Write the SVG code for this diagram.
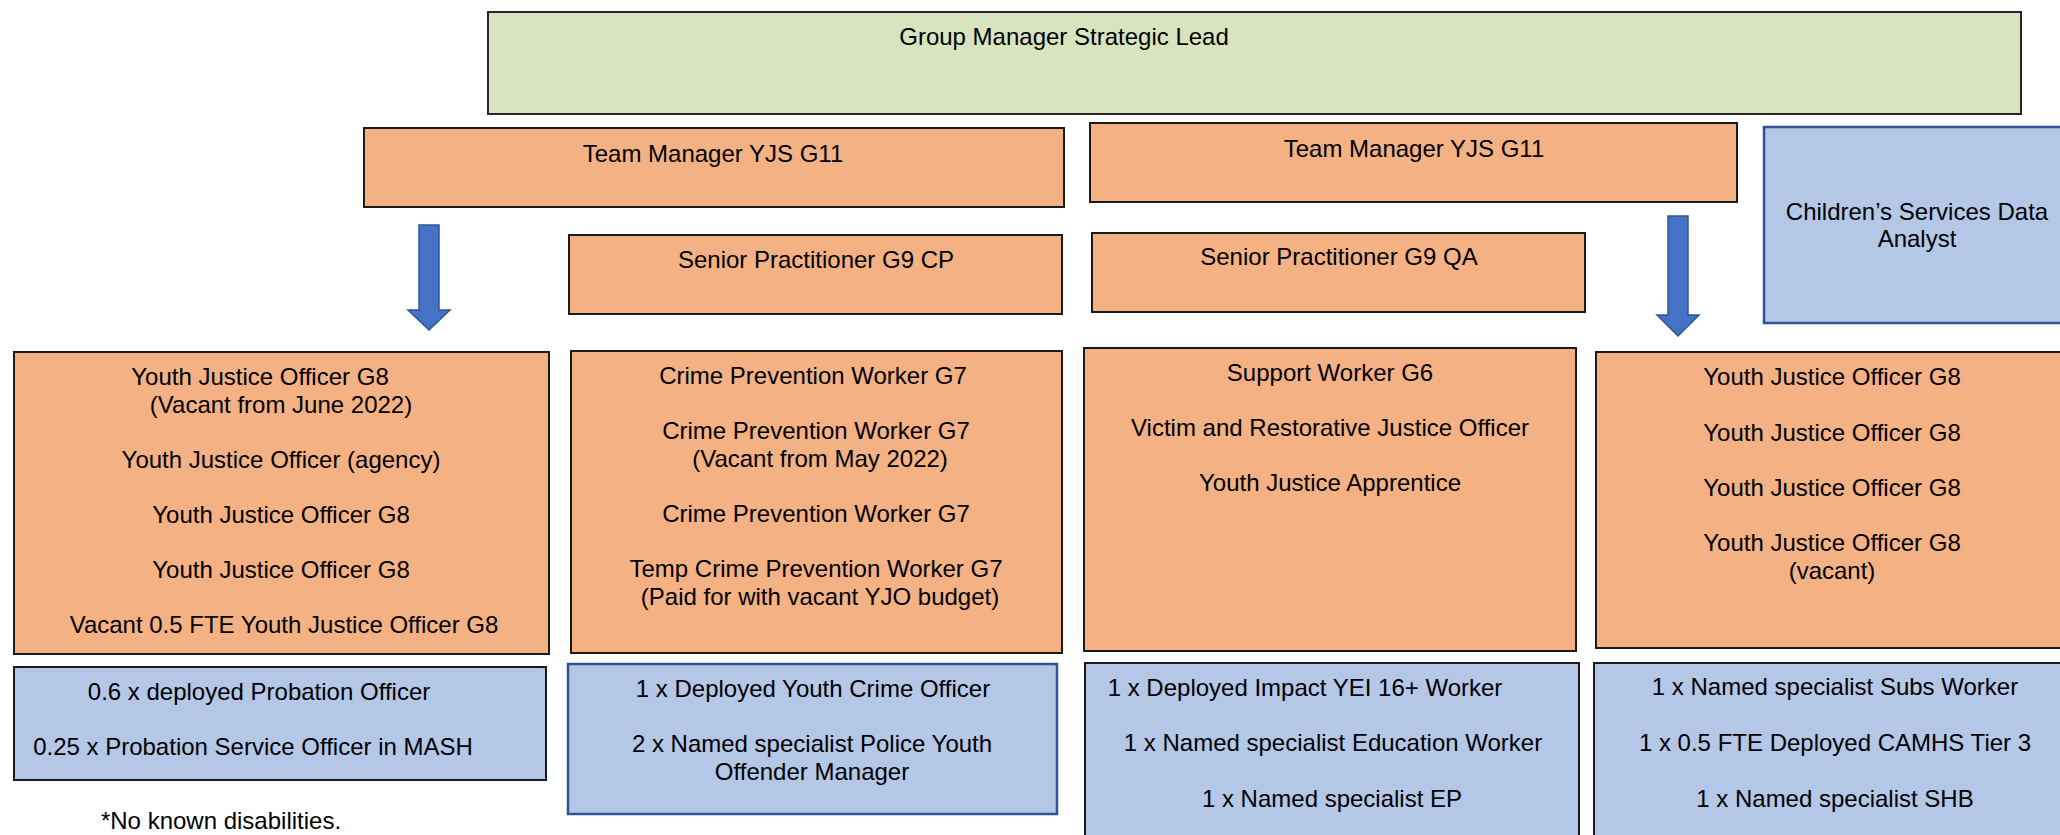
<svg xmlns="http://www.w3.org/2000/svg" width="2060" height="835" viewBox="0 0 2060 835">
<style>
  text { font-family: "Liberation Sans", Arial, sans-serif; font-size: 24px; fill: #000; text-anchor: middle; }
  .green { fill: #D7E4BD; stroke: #262626; stroke-width: 2; }
  .orange { fill: #F4B183; stroke: #1a1a1a; stroke-width: 2; }
  .blue { fill: #B4C7E7; stroke: #1a1a1a; stroke-width: 2; }
  .blueb { fill: #B4C7E7; stroke: #2F5597; stroke-width: 2.5; }
  .arrow { fill: #4472C4; stroke: #2F5597; stroke-width: 1.5; }
</style>
<rect width="2060" height="835" fill="#ffffff"/>

<g id="connectors">
  <polygon class="arrow" points="419,225 439,225 439,310 450,310 429,330 408,310 419,310"/>
  <polygon class="arrow" points="1668,216 1688,216 1688,315 1699,315 1678,336 1657,315 1668,315"/>
</g>

<g id="group-manager">
  <rect class="green" x="488" y="12" width="1533" height="102"/>
  <text x="1064" y="45">Group Manager Strategic Lead</text>
</g>

<g id="team-manager-1">
  <rect class="orange" x="364" y="128" width="700" height="79"/>
  <text x="713" y="162">Team Manager YJS G11</text>
</g>

<g id="team-manager-2">
  <rect class="orange" x="1090" y="123" width="647" height="79"/>
  <text x="1414" y="157">Team Manager YJS G11</text>
</g>

<g id="data-analyst">
  <rect class="blueb" x="1764" y="127" width="320" height="196"/>
  <text x="1917" y="220">Children’s Services Data</text>
  <text x="1917" y="247">Analyst</text>
</g>

<g id="senior-practitioner-cp">
  <rect class="orange" x="569" y="235" width="493" height="79"/>
  <text x="816" y="268">Senior Practitioner G9 CP</text>
</g>

<g id="senior-practitioner-qa">
  <rect class="orange" x="1092" y="233" width="493" height="79"/>
  <text x="1339" y="265">Senior Practitioner G9 QA</text>
</g>

<g id="yjo-team-1">
  <rect class="orange" x="14" y="352" width="535" height="302"/>
  <text x="260" y="385">Youth Justice Officer G8</text>
  <text x="281" y="413">(Vacant from June 2022)</text>
  <text x="281" y="468">Youth Justice Officer (agency)</text>
  <text x="281" y="523">Youth Justice Officer G8</text>
  <text x="281" y="578">Youth Justice Officer G8</text>
  <text x="284" y="633">Vacant 0.5 FTE Youth Justice Officer G8</text>
</g>

<g id="crime-prevention">
  <rect class="orange" x="571" y="351" width="491" height="302"/>
  <text x="813" y="384">Crime Prevention Worker G7</text>
  <text x="816" y="439">Crime Prevention Worker G7</text>
  <text x="820" y="467">(Vacant from May 2022)</text>
  <text x="816" y="522">Crime Prevention Worker G7</text>
  <text x="816" y="577">Temp Crime Prevention Worker G7</text>
  <text x="820" y="605">(Paid for with vacant YJO budget)</text>
</g>

<g id="support-workers">
  <rect class="orange" x="1084" y="348" width="492" height="303"/>
  <text x="1330" y="381">Support Worker G6</text>
  <text x="1330" y="436">Victim and Restorative Justice Officer</text>
  <text x="1330" y="491">Youth Justice Apprentice</text>
</g>

<g id="yjo-team-2">
  <rect class="orange" x="1596" y="352" width="480" height="296"/>
  <text x="1832" y="385">Youth Justice Officer G8</text>
  <text x="1832" y="441">Youth Justice Officer G8</text>
  <text x="1832" y="496">Youth Justice Officer G8</text>
  <text x="1832" y="551">Youth Justice Officer G8</text>
  <text x="1832" y="579">(vacant)</text>
</g>

<g id="probation">
  <rect class="blue" x="14" y="667" width="532" height="113"/>
  <text x="259" y="700">0.6 x deployed Probation Officer</text>
  <text x="253" y="755">0.25 x Probation Service Officer in MASH</text>
</g>

<g id="police">
  <rect class="blueb" x="568" y="664" width="489" height="150"/>
  <text x="813" y="697">1 x Deployed Youth Crime Officer</text>
  <text x="812" y="752">2 x Named specialist Police Youth</text>
  <text x="812" y="780">Offender Manager</text>
</g>

<g id="education">
  <rect class="blue" x="1085" y="663" width="494" height="185"/>
  <text x="1305" y="696">1 x Deployed Impact YEI 16+ Worker</text>
  <text x="1333" y="751">1 x Named specialist Education Worker</text>
  <text x="1332" y="807">1 x Named specialist EP</text>
</g>

<g id="health">
  <rect class="blue" x="1594" y="663" width="490" height="185"/>
  <text x="1835" y="695">1 x Named specialist Subs Worker</text>
  <text x="1835" y="751">1 x 0.5 FTE Deployed CAMHS Tier 3</text>
  <text x="1835" y="807">1 x Named specialist SHB</text>
</g>

<g id="note">
  <text x="221" y="829">*No known disabilities.</text>
</g>
</svg>
